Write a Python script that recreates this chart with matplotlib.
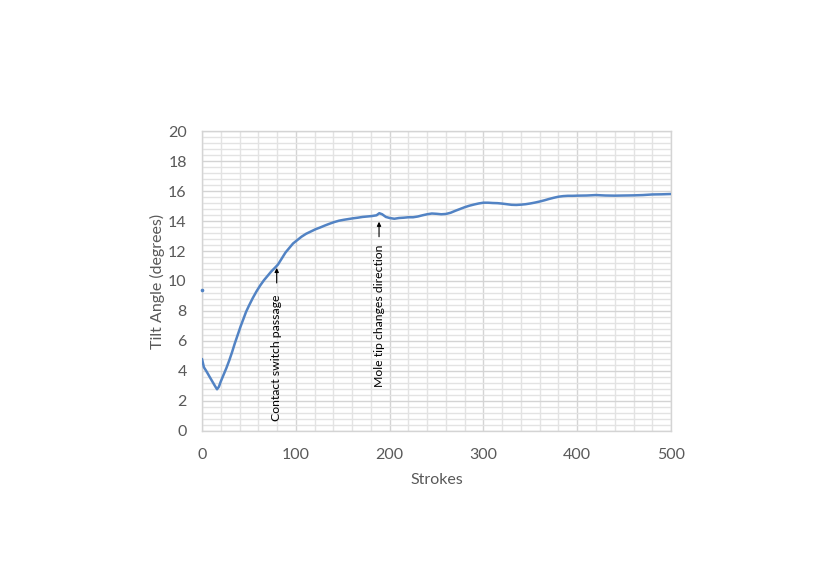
import matplotlib
matplotlib.use("Agg")
import matplotlib.pyplot as plt
from matplotlib.ticker import MultipleLocator

plt.rcParams['font.family'] = ['Lato', 'DejaVu Sans']

strokes = [0, 2, 5, 8, 11, 14, 16, 18, 20, 23, 26, 29, 32, 35, 38, 41, 44, 47, 50,
           54, 58, 62, 66, 70, 74, 78, 81, 85, 89, 93, 97, 101, 106, 111, 116, 121,
           126, 131, 136, 141, 146, 151, 156, 161, 166, 171, 176, 181, 186, 189, 192,
           196, 200, 205, 210, 215, 220, 225, 230, 235, 240, 245, 250, 255, 260, 265,
           270, 275, 280, 285, 290, 295, 300, 305, 310, 315, 320, 325, 330, 335, 340,
           345, 350, 355, 360, 365, 370, 375, 380, 385, 390, 395, 400, 410, 420, 430,
           440, 450, 460, 470, 480, 490, 500]
tilt = [4.8, 4.25, 3.95, 3.62, 3.3, 2.98, 2.78, 2.95, 3.3, 3.75, 4.2, 4.7, 5.25, 5.85,
        6.4, 6.95, 7.45, 7.95, 8.35, 8.85, 9.3, 9.7, 10.05, 10.35, 10.65, 10.9, 11.1,
        11.5, 11.9, 12.2, 12.5, 12.7, 12.95, 13.15, 13.3, 13.45, 13.57, 13.7, 13.82,
        13.93, 14.02, 14.08, 14.13, 14.18, 14.22, 14.27, 14.3, 14.33, 14.38, 14.52,
        14.45, 14.27, 14.2, 14.15, 14.2, 14.22, 14.25, 14.25, 14.3, 14.38, 14.45, 14.5,
        14.48, 14.45, 14.47, 14.55, 14.68, 14.8, 14.92, 15.02, 15.1, 15.17, 15.22,
        15.22, 15.2, 15.19, 15.16, 15.12, 15.08, 15.07, 15.09, 15.12, 15.17, 15.23,
        15.3, 15.38, 15.47, 15.55, 15.62, 15.66, 15.68, 15.68, 15.69, 15.7, 15.73,
        15.7, 15.69, 15.7, 15.71, 15.73, 15.77, 15.78, 15.8]
outlier_x = [0]
outlier_y = [9.4]

annotations = [
    ("Contact switch passage", 79.6, 10.87, 9.87, 9.07),
    ("Mole tip changes direction", 188.7, 13.95, 12.95, 12.4),
]

fig = plt.figure(figsize=(8.30, 5.87), dpi=100)
ax = fig.add_axes([0.2434, 0.2658, 0.5651, 0.5110])

blue = '#5283C4'
ax.plot(strokes, tilt, color=blue, lw=1.8, solid_capstyle='round', zorder=3)
ax.plot(outlier_x, outlier_y, linestyle='none', marker='o', ms=1.6, color=blue,
        clip_on=False, zorder=3)

ax.set_xlim(0, 500)
ax.set_ylim(0, 20)
ax.xaxis.set_major_locator(MultipleLocator(100))
ax.xaxis.set_minor_locator(MultipleLocator(20))
ax.yaxis.set_major_locator(MultipleLocator(2))
ax.yaxis.set_minor_locator(MultipleLocator(0.4))
ax.grid(which='major', color='#D4D4D4', lw=1.0, zorder=0)
ax.grid(which='minor', color='#E3E3E3', lw=1.0, zorder=0)
ax.set_axisbelow(True)
for s in ax.spines.values():
    s.set_color('#D4D4D4')
    s.set_linewidth(1.0)

ax.tick_params(which='both', length=0, colors='#595959', labelsize=11.5)
ax.tick_params(axis='y', pad=11)
ax.tick_params(axis='x', pad=12)

ax.set_xlabel('Strokes', color='#595959', fontsize=11.5, labelpad=8)
ax.set_ylabel('Tilt Angle (degrees)', color='#595959', fontsize=11.5, labelpad=2)

for text, x, tip, tail, ttop in annotations:
    ax.annotate('', xy=(x, tip), xytext=(x, tail),
                arrowprops=dict(arrowstyle='-|>', lw=0.8, color='black',
                                mutation_scale=6, shrinkA=0, shrinkB=0))
    ax.text(x, ttop, text, rotation=90, ha='center', va='top', fontsize=8.8,
            color='black')

fig.savefig('out.png', dpi=100)
